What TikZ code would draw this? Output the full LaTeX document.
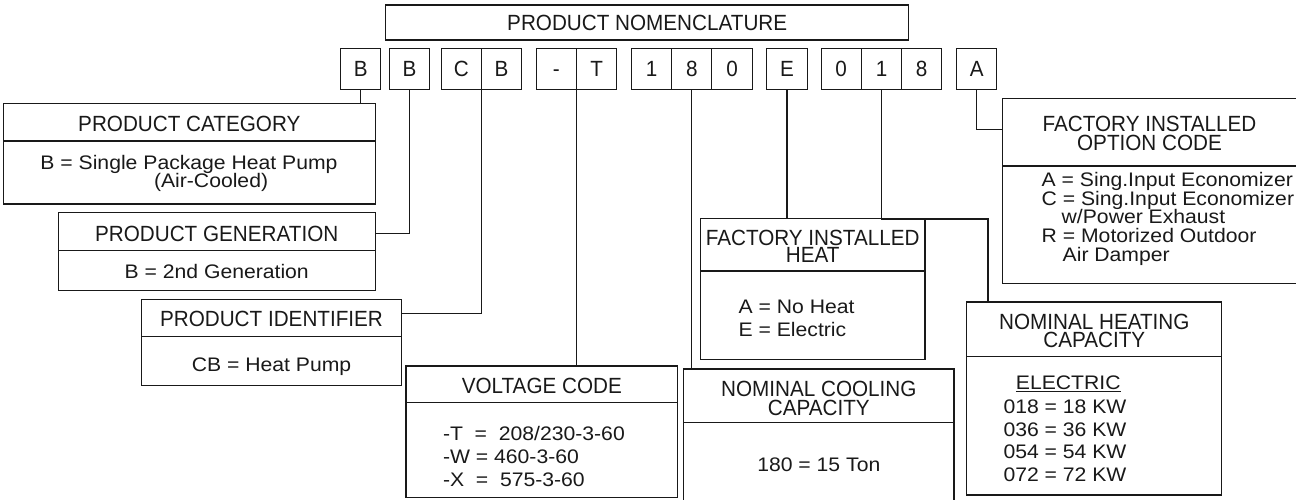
\documentclass[tikz,border=0pt]{standalone}
\usepackage{fontspec}
\setmainfont{Liberation Sans}[FakeStretch=0.94]
\newfontfamily\contentfont{Liberation Sans}[FakeStretch=1.08]
\begin{document}
\begin{tikzpicture}[x=1pt,y=-1pt,line width=1.05pt,color=black!90,
  box/.style={draw,inner sep=0pt,outer sep=0pt,anchor=north west},
  frame/.style={inner sep=0pt,outer sep=0pt,anchor=north west},
  cell/.style={draw,inner sep=0pt,outer sep=0pt,minimum width=40.3pt,minimum height=41pt,text height=15.75pt,text depth=0pt},
  txt/.style={inner sep=0pt,outer sep=0pt,anchor=base},
  ctxt/.style={inner sep=0pt,outer sep=0pt,anchor=base,font=\contentfont\fontsize{19.6}{21}\selectfont},
  ltxt/.style={inner sep=0pt,outer sep=0pt,anchor=base west,font=\contentfont\fontsize{19.6}{21}\selectfont},
  font=\fontsize{22}{23}\selectfont]
\useasboundingbox (0,0) rectangle (1296,500);

% title
\node[box,minimum width=523.2pt,minimum height=35pt] (title) at (385.6,5) {};
\node[txt] (titleT) at (647.2,30.5) {PRODUCT NOMENCLATURE};

% code cells
\node[cell] (c1) at (360.7,68.8) {B};
\node[cell] (c2) at (409.5,68.8) {B};
\node[cell] (c3a) at (461.3,68.8) {C};
\node[cell] (c3b) at (501.6,68.8) {B};
\node[cell] (c4a) at (556.4,68.8) {-};
\node[cell] (c4b) at (596.7,68.8) {T};
\node[cell] (c5a) at (651.5,68.8) {1};
\node[cell] (c5b) at (691.8,68.8) {8};
\node[cell] (c5c) at (732.0,68.8) {0};
\node[cell] (c6) at (787.0,68.8) {E};
\node[cell] (c7a) at (841.2,68.8) {0};
\node[cell] (c7b) at (881.5,68.8) {1};
\node[cell] (c7c) at (921.7,68.8) {8};
\node[cell] (c8) at (976.8,68.8) {A};

% product category
\node[box,minimum width=371.9pt,minimum height=100.7pt] (cat) at (3.3,103.3) {};
\draw (cat.west |- 0,141) -- (cat.east |- 0,141);
\node[txt] (catT) at (189.3,131.7) {PRODUCT CATEGORY};
\node[ctxt] (catA) at (189,169.3) {B = Single Package Heat Pump};
\node[ltxt] (catB) at (154,187.3) {(Air-Cooled)};

% product generation
\node[box,minimum width=316.9pt,minimum height=78pt] (gen) at (58.3,212.7) {};
\draw (gen.west |- 0,250.5) -- (gen.east |- 0,250.5);
\node[txt] (genT) at (216.7,241.5) {PRODUCT GENERATION};
\node[ctxt] (genA) at (216.7,278.3) {B = 2nd Generation};

% product identifier
\node[box,minimum width=259.5pt,minimum height=86.4pt] (ident) at (141.8,299.3) {};
\draw (ident.west |- 0,336.7) -- (ident.east |- 0,336.7);
\node[txt] (identT) at (271.5,326.8) {PRODUCT IDENTIFIER};
\node[ctxt] (identA) at (271.5,371) {CB = Heat Pump};

% voltage code
\node[box,minimum width=271.7pt,minimum height=131.3pt] (volt) at (406,366) {};
\draw (volt.west |- 0,402.7) -- (volt.east |- 0,402.7);
\node[txt] (voltT) at (541.8,393.3) {VOLTAGE CODE};
\node[ltxt] (voltA) at (443,440.5) {-T\ \ =\ \ 208/230-3-60};
\node[ltxt] (voltB) at (443,463.3) {-W = 460-3-60};
\node[ltxt] (voltC) at (443,486) {-X\ \ =\ \ 575-3-60};

% nominal cooling capacity (open at the bottom)
\node[frame,minimum width=270.5pt,minimum height=131pt] (cool) at (683.5,369) {};
\draw (cool.south west) -- (cool.north west) -- (cool.north east) -- (cool.south east);
\draw (cool.west |- 0,422.7) -- (cool.east |- 0,422.7);
\node[txt] (coolT) at (818.8,396) {NOMINAL COOLING};
\node[txt] (coolU) at (818.8,415) {CAPACITY};
\node[ctxt] (coolA) at (818.8,471) {180 = 15 Ton};

% factory installed heat
\node[box,minimum width=224.5pt,minimum height=141pt] (heat) at (700.5,218.3) {};
\draw (heat.west |- 0,271) -- (heat.east |- 0,271);
\node[txt] (heatT) at (812.7,245) {FACTORY INSTALLED};
\node[txt] (heatU) at (812.7,262.7) {HEAT};
\node[ltxt] (heatA) at (738.6,313.5) {A = No Heat};
\node[ltxt] (heatB) at (738.6,336) {E = Electric};

% nominal heating capacity
\node[box,minimum width=255.2pt,minimum height=193pt] (hcap) at (966.7,302) {};
\draw (hcap.west |- 0,356.7) -- (hcap.east |- 0,356.7);
\node[txt] (hcapT) at (1094.3,329) {NOMINAL HEATING};
\node[txt] (hcapU) at (1094.3,347.7) {CAPACITY};
\node[ltxt] (hcapE) at (1015.9,389.3) {\underline{ELECTRIC}};
\node[ltxt] (hcapA) at (1003.5,413.5) {018 = 18 KW};
\node[ltxt] (hcapB) at (1003.5,436) {036 = 36 KW};
\node[ltxt] (hcapC) at (1003.5,458.5) {054 = 54 KW};
\node[ltxt] (hcapD) at (1003.5,481) {072 = 72 KW};

% factory installed option code (open at the right)
\node[frame,minimum width=293.3pt,minimum height=185pt] (opt) at (1002.7,98.3) {};
\draw (opt.north east) -- (opt.north west) -- (opt.south west) -- (opt.south east);
\draw (opt.west |- 0,166) -- (opt.east |- 0,166);
\node[txt] (optT) at (1149.5,131.7) {FACTORY INSTALLED};
\node[txt] (optU) at (1149.5,150.7) {OPTION CODE};
\node[ltxt] (optA) at (1041.7,186.2) {A = Sing.Input Economizer};
\node[ltxt] (optB) at (1041.7,205) {C = Sing.Input Economizer};
\node[ltxt] (optC) at (1061.7,223.5) {w/Power Exhaust};
\node[ltxt] (optD) at (1041.7,242.3) {R = Motorized Outdoor};
\node[ltxt] (optE) at (1062.7,261) {Air Damper};

% connectors
\coordinate (genJ) at (0,233.3);
\coordinate (identJ) at (0,313.3);
\coordinate (hcapJ) at (988,219);
\coordinate (optJ) at (0,129.3);
\draw (c1.south) -- (c1.south |- cat.north);
\draw (c2.south) |- (gen.east |- genJ);
\draw (c3a.south east) |- (ident.east |- identJ);
\draw (c4a.south east) -- (c4a.south east |- volt.north);
\draw (c5b.south) -- (c5b.south |- cool.north);
\draw (c6.south) -- (c6.south |- heat.north);
\draw (c7b.south) |- (hcapJ) -- (hcapJ |- hcap.north);
\draw (c8.south) |- (opt.west |- optJ);
\end{tikzpicture}
\end{document}
